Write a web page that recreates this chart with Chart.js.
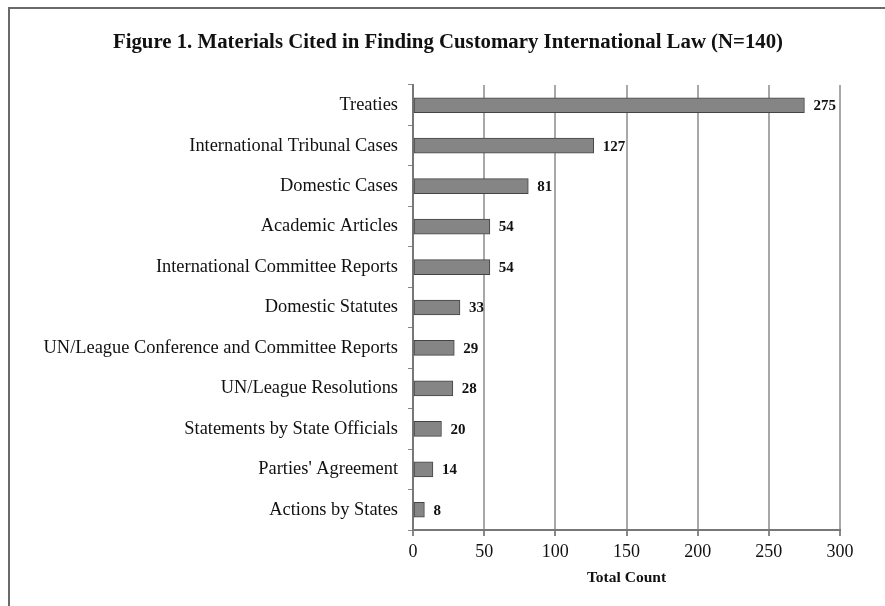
<!DOCTYPE html>
<html>
<head>
<meta charset="utf-8">
<script src="https://cdn.jsdelivr.net/npm/chart.js@4"></script>
<style>
html,body{margin:0;padding:0;background:#fff;}
#wrap{position:relative;width:885px;height:606px;overflow:hidden;}
#frame{position:absolute;left:8px;top:7px;width:885px;height:606px;border-top:2px solid #6a6a6a;border-left:2px solid #6a6a6a;pointer-events:none;}
canvas{position:absolute;left:0;top:0;}
</style>
</head>
<body>
<div id="wrap">
<canvas id="c" width="885" height="606"></canvas>
<div id="frame"></div>
</div>
<script>
const chartTitle = "Figure 1. Materials Cited in Finding Customary International Law (N=140)";
const categories = [
  "Treaties",
  "International Tribunal Cases",
  "Domestic Cases",
  "Academic Articles",
  "International Committee Reports",
  "Domestic Statutes",
  "UN/League Conference and Committee Reports",
  "UN/League Resolutions",
  "Statements by State Officials",
  "Parties' Agreement",
  "Actions by States"
];
const counts = [275, 127, 81, 54, 54, 33, 29, 28, 20, 14, 8];
const xTicks = [0, 50, 100, 150, 200, 250, 300];
const xAxisTitle = "Total Count";

const SERIF = "'Liberation Serif', 'Times New Roman', serif";

const valueLabels = {
  id: 'valueLabels',
  afterDatasetsDraw(chart) {
    const ctx = chart.ctx;
    const meta = chart.getDatasetMeta(0);
    ctx.save();
    ctx.font = "bold 15px " + SERIF;
    ctx.fillStyle = "#111";
    ctx.textAlign = "left";
    ctx.textBaseline = "middle";
    meta.data.forEach((bar, i) => {
      ctx.fillText(String(counts[i]), bar.x + 9, bar.y + 1);
    });
    ctx.restore();
  }
};

const titlePlugin = {
  id: 'titlePlugin',
  afterDraw(chart) {
    const ctx = chart.ctx;
    ctx.save();
    ctx.font = "bold 20.8px " + SERIF;
    ctx.fillStyle = "#111";
    ctx.textAlign = "center";
    ctx.textBaseline = "middle";
    ctx.fillText(chartTitle, 448, 43);
    ctx.restore();
  }
};

const whiteBg = {
  id: 'whiteBg',
  beforeDraw(chart) {
    const ctx = chart.ctx;
    ctx.save();
    ctx.fillStyle = '#fff';
    ctx.fillRect(0, 0, chart.width, chart.height);
    ctx.restore();
  }
};

new Chart(document.getElementById('c'), {
  type: 'bar',
  data: {
    labels: categories,
    datasets: [{
      data: counts,
      backgroundColor: '#858585',
      borderColor: '#444',
      borderWidth: 1,
      borderSkipped: false,
      barThickness: 15
    }]
  },
  options: {
    indexAxis: 'y',
    responsive: false,
    animation: false,
    devicePixelRatio: 1,
    layout: { padding: { left: 0, right: 45, top: 85, bottom: 0 } },
    plugins: {
      legend: { display: false },
      tooltip: { enabled: false },
      title: { display: false }
    },
    scales: {
      x: {
        min: 0,
        max: 300,
        afterBuildTicks(scale) { scale.ticks = xTicks.map(v => ({ value: v })); },
        afterFit(scale) { scale.height = 76; },
        grid: {
          color: '#a8a8a8',
          lineWidth: 2,
          drawTicks: true,
          tickLength: 6,
          tickColor: '#888'
        },
        border: { color: '#777', width: 2 },
        ticks: {
          color: '#111',
          padding: 5,
          font: { family: SERIF, size: 18 }
        },
        title: {
          display: true,
          text: xAxisTitle,
          color: '#111',
          font: { family: SERIF, size: 15.5, weight: 'bold' },
          padding: { top: 0, bottom: 19 }
        }
      },
      y: {
        afterFit(scale) { scale.width = 413; },
        grid: {
          drawOnChartArea: false,
          drawTicks: true,
          tickLength: 5,
          color: '#888',
          offset: true
        },
        border: { color: '#777', width: 2 },
        ticks: {
          color: '#111',
          padding: 10,
          autoSkip: false,
          font: { family: SERIF, size: 18.4 }
        }
      }
    }
  },
  plugins: [whiteBg, valueLabels, titlePlugin]
});
</script>
</body>
</html>
